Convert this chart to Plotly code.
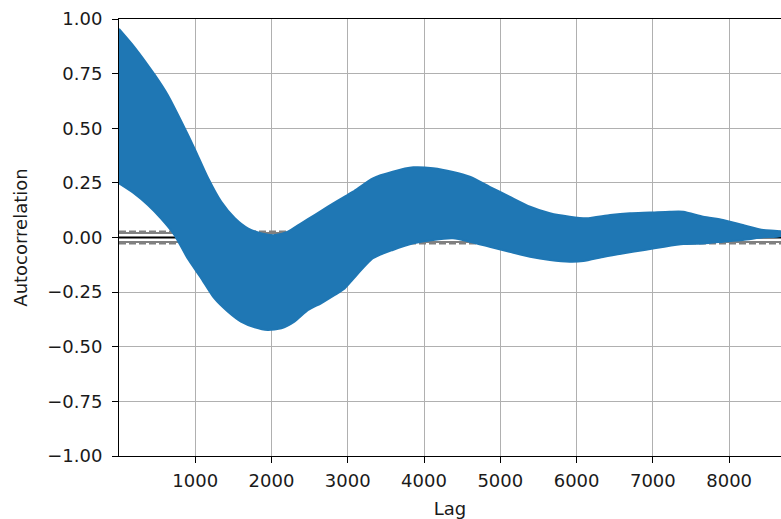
import numpy as np
import plotly.graph_objects as go

# Envelope of the (densely oscillating) autocorrelation curve
upper_lag = [1, 200, 470, 640, 820, 990, 1170, 1340, 1520, 1690, 1870, 2040, 2215, 2390,
             2565, 2740, 2960, 3070, 3330, 3590, 3860, 4120, 4380, 4600, 4860, 5120, 5390,
             5650, 5910, 6130, 6440, 6700, 6960, 7220, 7400, 7660, 7920, 8180, 8450, 8680]
upper_val = [0.955, 0.873, 0.744, 0.652, 0.53, 0.408, 0.271, 0.164, 0.088, 0.042, 0.019, 0.011,
             0.027, 0.065, 0.103, 0.141, 0.187, 0.21, 0.271, 0.301, 0.321, 0.317, 0.30, 0.278,
             0.232, 0.187, 0.141, 0.111, 0.095, 0.088, 0.103, 0.111, 0.114, 0.118, 0.118, 0.095,
             0.08, 0.057, 0.034, 0.027]

lower_lag = [1, 200, 380, 550, 730, 900, 1080, 1250, 1430, 1600, 1780, 1950, 2130, 2300, 2480,
             2650, 2830, 2960, 3070, 3330, 3590, 3860, 4120, 4380, 4600, 4860, 5120, 5390, 5650,
             5910, 6090, 6360, 6620, 6890, 7150, 7400, 7660, 7920, 8180, 8450, 8680]
lower_val = [0.248, 0.202, 0.149, 0.088, 0.011, -0.095, -0.187, -0.278, -0.34, -0.385, -0.411,
             -0.423, -0.416, -0.385, -0.332, -0.301, -0.263, -0.233, -0.19, -0.095, -0.057,
             -0.027, -0.011, -0.004, -0.019, -0.042, -0.065, -0.088, -0.103, -0.111, -0.108,
             -0.088, -0.072, -0.057, -0.042, -0.03, -0.027, -0.019, -0.011, 0.001, 0.007]

n_obs = 8680
x_ticks = [1000, 2000, 3000, 4000, 5000, 6000, 7000, 8000]
y_ticks = [1.0, 0.75, 0.5, 0.25, 0.0, -0.25, -0.5, -0.75, -1.0]
y_tick_text = ["1.00", "0.75", "0.50", "0.25", "0.00", "\u22120.25", "\u22120.50", "\u22120.75", "\u22121.00"]

z95 = 1.959963984540054
z99 = 2.5758293035489004

fig = go.Figure()

# confidence lines (drawn below the curve)
for val, dash, col in [(z99 / np.sqrt(n_obs), "7px,3px", "grey"),
                       (z95 / np.sqrt(n_obs), "solid", "grey"),
                       (0.0, "solid", "black"),
                       (-z95 / np.sqrt(n_obs), "solid", "grey"),
                       (-z99 / np.sqrt(n_obs), "7px,3px", "grey")]:
    fig.add_trace(go.Scatter(x=[1, n_obs], y=[val, val], mode="lines",
                             line=dict(color=col, width=2, dash=dash),
                             hoverinfo="skip", showlegend=False))

fig.add_trace(go.Scatter(
    x=list(upper_lag) + list(lower_lag[::-1]),
    y=list(upper_val) + list(lower_val[::-1]),
    mode="lines", fill="toself", fillcolor="#1f77b4",
    line=dict(color="#1f77b4", width=2, shape="spline", smoothing=0.6),
    hoverinfo="skip", showlegend=False,
))

font = dict(family="DejaVu Sans", size=18, color="#1a1a1a")

fig.update_layout(
    width=781, height=519,
    margin=dict(l=119, r=0, t=19, b=63, autoexpand=False),
    paper_bgcolor="white", plot_bgcolor="white",
    font=font, showlegend=False,
    xaxis=dict(range=[1, n_obs], tickvals=x_ticks, ticktext=[str(v) for v in x_ticks],
               showgrid=True, gridcolor="#b0b0b0", gridwidth=1, zeroline=False,
               showline=True, linecolor="black", linewidth=1, mirror=True,
               ticks="outside", ticklen=6, tickcolor="black", tickwidth=1, automargin=False,
               ticklabelstandoff=2,
               title=dict(text="Lag", font=font, standoff=12)),
    yaxis=dict(range=[-1, 1], tickvals=y_ticks, ticktext=y_tick_text,
               showgrid=True, gridcolor="#b0b0b0", gridwidth=1, zeroline=False,
               showline=True, linecolor="black", linewidth=1, mirror=False,
               ticks="outside", ticklen=6, tickcolor="black", tickwidth=1, automargin=False,
               ticklabelstandoff=6,
               title=dict(text="Autocorrelation", font=font, standoff=14)),
)

fig.write_html("out.html", config={"displayModeBar": False},
               post_script="document.body.style.margin='0px';document.body.style.overflow='hidden';")
